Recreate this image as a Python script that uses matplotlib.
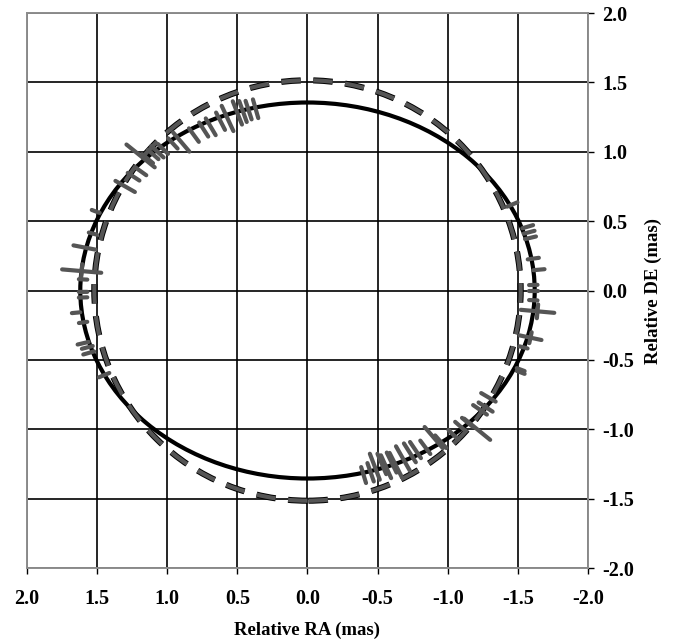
import numpy as np
import matplotlib
matplotlib.use('Agg')
import matplotlib.pyplot as plt
from matplotlib.patches import Ellipse
from matplotlib.collections import LineCollection
from matplotlib.ticker import FormatStrFormatter
import matplotlib.patheffects as pe

plt.rcParams['font.family'] = ['Liberation Serif', 'DejaVu Serif']
plt.rcParams['axes.unicode_minus'] = False
plt.rcParams['lines.scale_dashes'] = False

# orbit models (semi-axes in mas)
fit_a, fit_b = 1.62, 1.355
ring_a, ring_b = 1.52, 1.515

# measured positions (mas) and error half-lengths along / across the radius
ra_obs = [0.37, 0.42, 0.46, 0.50, 0.57, 0.62, 0.69, 0.74, 0.81, 0.90,
          0.96, 1.03, 1.07, 1.10, 1.14, 1.19, 1.19, 1.24, 1.30, 1.51,
          1.53, 1.59, 1.61, 1.60, 1.60, 1.60, 1.65, 1.60, 1.60, 1.57,
          1.56, 1.45,
          -0.40, -0.45, -0.48, -0.53, -0.56, -0.60, -0.63, -0.68, -0.73, -0.77,
          -0.84, -0.90, -0.95, -1.04, -1.09, -1.14, -1.21, -1.23, -1.27, -1.29,
          -1.52,
          -1.46, -1.57, -1.58, -1.59, -1.61, -1.65, -1.61, -1.61, -1.61, -1.64,
          -1.59, -1.54, -1.52]
de_obs = [1.31, 1.30, 1.29, 1.28, 1.24, 1.22, 1.18, 1.16, 1.12, 1.07,
          1.06, 1.02, 1.00, 0.98, 0.95, 0.97, 0.86, 0.82, 0.75, 0.57,
          0.41, 0.31, 0.14, 0.08, -0.01, -0.05, -0.16, -0.23, -0.38, -0.41,
          -0.45, -0.61,
          -1.33, -1.31, -1.27, -1.25, -1.27, -1.24, -1.26, -1.21, -1.17, -1.15,
          -1.13, -1.06, -1.09, -1.04, -0.98, -0.95, -1.00, -0.86, -0.84, -0.77,
          -0.57,
          0.62, 0.46, 0.42, 0.38, 0.23, 0.15, 0.04, 0.00, -0.07, -0.15,
          -0.34, -0.41, -0.59]
err_rad = [0.07, 0.07, 0.08, 0.09, 0.10, 0.07, 0.07, 0.06, 0.06, 0.09,
           0.05, 0.05, 0.06, 0.05, 0.05, 0.13, 0.05, 0.05, 0.08, 0.03,
           0.03, 0.08, 0.14, 0.03, 0.03, 0.03, 0.03, 0.03, 0.04, 0.04,
           0.04, 0.04,
           0.06, 0.07, 0.10, 0.08, 0.09, 0.08, 0.10, 0.10, 0.08, 0.07,
           0.06, 0.10, 0.06, 0.05, 0.05, 0.05, 0.12, 0.06, 0.06, 0.06,
           0.03,
           0.04, 0.04, 0.04, 0.04, 0.04, 0.04, 0.03, 0.03, 0.03, 0.12,
           0.08, 0.03, 0.03]
err_tan = [0.0] * len(ra_obs)
err_tan[22] = 0.05
err_tan[62] = 0.05
err_tan[63] = 0.04

ticks = [-2.0, -1.5, -1.0, -0.5, 0.0, 0.5, 1.0, 1.5, 2.0]

fig = plt.figure(figsize=(6.73, 6.44), dpi=100)
ax = fig.add_axes([0.0401, 0.118, 0.8336, 0.8618])

ax.set_xlim(2.0, -2.0)
ax.set_ylim(-2.0, 2.0)
ax.set_xticks(ticks)
ax.set_yticks(ticks)
ax.xaxis.set_major_formatter(FormatStrFormatter('%.1f'))
ax.yaxis.set_major_formatter(FormatStrFormatter('%.1f'))
ax.grid(True, color='black', linewidth=1.2, zorder=0)
ax.set_axisbelow(True)

for s in ax.spines.values():
    s.set_color('#8c8c8c')
    s.set_linewidth(1.4)

ax.tick_params(axis='y', left=False, right=True, labelleft=False, labelright=True,
               direction='out', length=4, width=1, color='black', pad=6,
               labelsize=14.5)
ax.tick_params(axis='x', direction='out', length=4, width=1, color='black', pad=11,
               labelsize=14.5)
for lab in ax.get_xticklabels() + ax.get_yticklabels():
    lab.set_fontweight('bold')

# best-fit orbit
ax.add_patch(Ellipse((0, 0), 2 * fit_a, 2 * fit_b, fill=False, edgecolor='black',
                     linewidth=3.0, zorder=3))

# reference orbit, dashed
ring = Ellipse((0, 0), 2 * ring_a, 2 * ring_b, fill=False, edgecolor='#555555',
               linewidth=3.0, zorder=4)
ring.set_linestyle((0, (14, 9)))
ring.set_path_effects([pe.Stroke(linewidth=4.4, foreground='black'), pe.Normal()])
ax.add_patch(ring)

# error bars
segs = []
for x, y, er, et in zip(ra_obs, de_obs, err_rad, err_tan):
    r = np.hypot(x, y)
    ux, uy = x / r, y / r
    segs.append([(x - er * ux, y - er * uy), (x + er * ux, y + er * uy)])
    if et > 0:
        segs.append([(x + et * uy, y - et * ux), (x - et * uy, y + et * ux)])
bars = LineCollection(segs, colors='#555555', linewidths=3.0, capstyle='round',
                      zorder=5)
ax.add_collection(bars)

ax.set_xlabel('Relative RA (mas)', fontsize=13.5, fontweight='bold', labelpad=9)
ax.yaxis.set_label_position('right')
ax.set_ylabel('Relative DE (mas)', fontsize=13.5, fontweight='bold', labelpad=8)

fig.savefig('out.png', dpi=100)
